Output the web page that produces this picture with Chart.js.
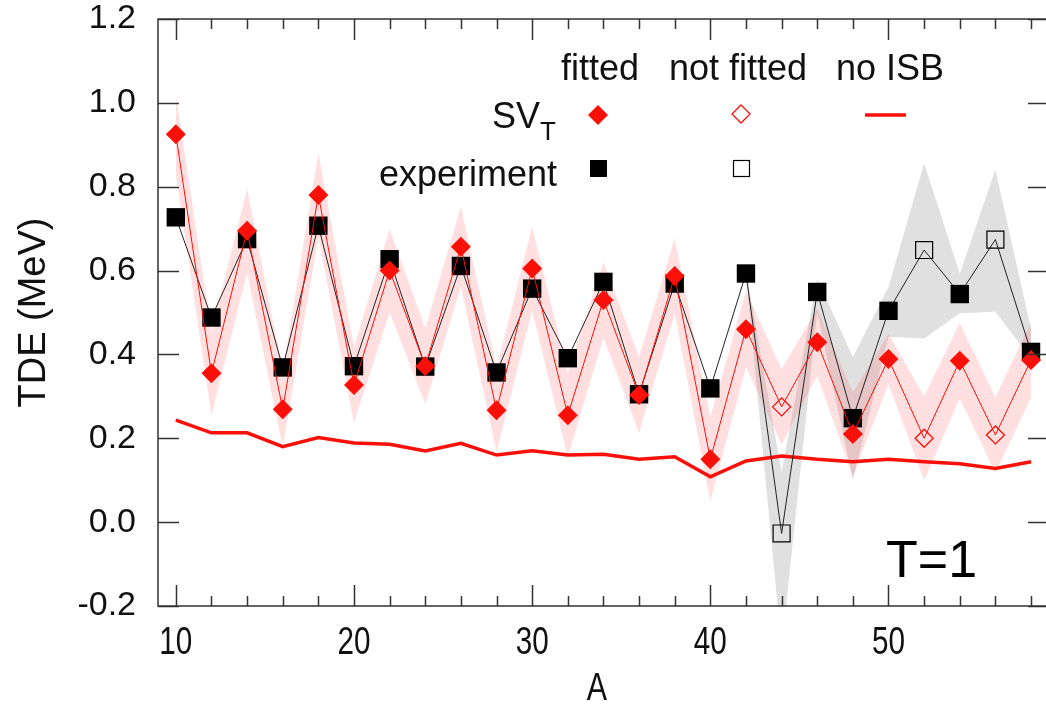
<!DOCTYPE html>
<html>
<head>
<meta charset="utf-8">
<script src="https://cdn.jsdelivr.net/npm/chart.js@4.4.1/dist/chart.umd.min.js"></script>
<style>
html,body{margin:0;background:#fff;}
#c{display:block;}
</style>
</head>
<body>
<canvas id="c" width="1046" height="710"></canvas>
<script>
// mass number A
const massA = [10,12,14,16,18,20,22,24,26,28,30,32,34,36,38,40,42,44,46,48,50,52,54,56,58];
// SV_T result and its band half-width
const svT   = [0.925,0.355,0.695,0.269,0.780,0.327,0.600,0.372,0.657,0.267,0.605,0.255,0.530,0.303,0.587,0.150,0.460,0.275,0.429,0.210,0.389,0.200,0.385,0.208,0.387];
const svErr = [0.095,0.10,0.10,0.09,0.10,0.09,0.10,0.09,0.095,0.10,0.10,0.10,0.09,0.09,0.09,0.10,0.09,0.09,0.08,0.10,0.06,0.10,0.09,0.09,0.09];
// experiment
const expt  = [0.727,0.488,0.675,0.369,0.707,0.372,0.627,0.371,0.611,0.357,0.557,0.391,0.573,0.305,0.569,0.319,0.593,-0.027,0.549,0.248,0.504,0.649,0.544,0.674,0.406];
// grey band around experiment (only A>=42)
const expHi = [null,null,null,null,null,null,null,null,null,null,null,null,null,null,null,null,0.60,0.12,0.58,0.394,0.561,0.856,0.593,0.841,0.46];
const expLo = [null,null,null,null,null,null,null,null,null,null,null,null,null,null,null,null,0.59,-0.30,0.50,0.100,0.442,0.438,0.498,0.502,0.39];
// no isospin symmetry breaking
const noIsb = [0.2435,0.213,0.213,0.180,0.202,0.189,0.186,0.170,0.188,0.160,0.170,0.160,0.162,0.150,0.156,0.108,0.146,0.158,0.150,0.144,0.150,0.144,0.139,0.128,0.144];
// points not used in the fit
const notFitted = [44,52,56];

const xTicks = [10,20,30,40,50];
const yTicks = [-0.2,0,0.2,0.4,0.6,0.8,1.0,1.2];

const RED = "rgb(250,16,8)";
const PINK = "rgba(255,40,40,0.15)";
const GREY = "rgba(0,0,0,0.12)";
const FONT = "'Liberation Sans', Arial, sans-serif";

const pts = arr => massA.map((a,i) => ({x:a, y:arr[i]}));
const isOpen = ctx => notFitted.includes(massA[ctx.dataIndex]);
const openPts = arr => massA.map((a,i) => ({x:a, y:arr[i]})).filter(p => notFitted.includes(p.x));

// frame, inward ticks, narrow x labels, legend and label
const frame = {
  id: "frame",
  afterDraw(chart){
    const {ctx, chartArea:a, scales:{x,y}} = chart;
    const rightEdge = a.right + 3;
    ctx.save();
    ctx.strokeStyle = "#333";
    ctx.lineWidth = 1.5;
    ctx.beginPath();
    ctx.moveTo(rightEdge, a.top); ctx.lineTo(a.left, a.top);
    ctx.lineTo(a.left, a.bottom); ctx.lineTo(rightEdge, a.bottom);
    for (let v = 10; v <= 58; v += 2) {
      const px = Math.round(x.getPixelForValue(v)) + 0.5;
      const len = v % 10 === 0 ? 21 : 10;
      ctx.moveTo(px, a.bottom); ctx.lineTo(px, a.bottom - len);
      ctx.moveTo(px, a.top); ctx.lineTo(px, a.top + len);
    }
    yTicks.forEach(v => {
      const py = Math.round(y.getPixelForValue(v)) + 0.5;
      ctx.moveTo(a.left, py); ctx.lineTo(a.left + 21, py);
      ctx.moveTo(rightEdge, py); ctx.lineTo(rightEdge - 21, py);
    });
    ctx.stroke();

    // x tick labels and title, horizontally condensed like the original
    ctx.fillStyle = "#111";
    ctx.font = "38px " + FONT;
    ctx.textAlign = "center";
    ctx.textBaseline = "alphabetic";
    xTicks.forEach(v => {
      ctx.save();
      ctx.translate(x.getPixelForValue(v), 654);
      ctx.scale(0.78, 1);
      ctx.fillText(String(v), 0, 0);
      ctx.restore();
    });
    ctx.save();
    ctx.translate(597, 700);
    ctx.scale(0.8, 1);
    ctx.fillText("A", 0, 0);
    ctx.restore();

    // legend
    ctx.font = "36px " + FONT;
    ctx.fillText("fitted", 600, 80);
    ctx.fillText("not fitted", 738, 80);
    ctx.fillText("no ISB", 890, 80);
    ctx.textAlign = "right";
    ctx.fillText("SV", 540, 128);
    ctx.fillText("experiment", 557, 186);
    ctx.textAlign = "left";
    ctx.font = "26px " + FONT;
    ctx.fillText("T", 540, 140);

    // legend markers
    ctx.fillStyle = RED;
    ctx.beginPath();
    ctx.moveTo(598, 105); ctx.lineTo(608, 115); ctx.lineTo(598, 125); ctx.lineTo(588, 115);
    ctx.closePath(); ctx.fill();
    ctx.strokeStyle = RED; ctx.lineWidth = 1.3;
    ctx.beginPath();
    ctx.moveTo(741, 105); ctx.lineTo(750, 114); ctx.lineTo(741, 123); ctx.lineTo(732, 114);
    ctx.closePath(); ctx.stroke();
    ctx.lineWidth = 3.5;
    ctx.beginPath(); ctx.moveTo(865, 115); ctx.lineTo(906, 115); ctx.stroke();
    ctx.fillStyle = "#000";
    ctx.fillRect(590, 160, 17, 17);
    ctx.strokeStyle = "#000"; ctx.lineWidth = 1.2;
    ctx.strokeRect(733.5, 160.5, 16, 16);

    ctx.fillStyle = "#000";
    ctx.font = "52px " + FONT;
    ctx.fillText("T=1", 886, 577);
    ctx.restore();
  }
};

new Chart(document.getElementById("c"), {
  type: "line",
  data: {
    datasets: [
      {data: pts(svT).map((p,i)=>({x:p.x, y:p.y+svErr[i]})), borderWidth:0, pointRadius:0, fill:false, order:10},
      {data: pts(svT).map((p,i)=>({x:p.x, y:p.y-svErr[i]})), borderWidth:0, pointRadius:0, fill:"-1", backgroundColor:PINK, order:10},
      {data: pts(expHi), borderWidth:0, pointRadius:0, fill:false, spanGaps:false, order:11},
      {data: pts(expLo), borderWidth:0, pointRadius:0, fill:"-1", backgroundColor:GREY, spanGaps:false, order:11},
      {data: pts(noIsb), borderColor:RED, borderWidth:3.5, pointRadius:0, fill:false, order:5},
      {data: pts(expt), borderColor:"#222", borderWidth:1, fill:false, order:4,
       pointStyle:"rect", pointRadius: c => isOpen(c) ? 0 : 13, backgroundColor:"#000", pointBorderWidth:0},
      {data: openPts(expt), showLine:false, pointStyle:"rect", pointRadius:12, pointBorderWidth:1.2,
       pointBorderColor:"#000", pointBackgroundColor:"rgba(0,0,0,0)", order:3},
      {data: pts(svT), borderColor:RED, borderWidth:1, fill:false, order:2,
       pointStyle:"rectRot", pointRadius: c => isOpen(c) ? 0 : 10, backgroundColor:RED, pointBorderWidth:0},
      {data: openPts(svT), showLine:false, pointStyle:"rectRot", pointRadius:9, pointBorderWidth:1.3,
       pointBorderColor:RED, pointBackgroundColor:"rgba(255,255,255,0)", order:1}
    ]
  },
  options: {
    responsive: false,
    animation: false,
    devicePixelRatio: 1,
    layout: {autoPadding: false, padding: {top: 19, right: 0, left: 0, bottom: 0}},
    plugins: {legend: {display:false}, tooltip: {enabled:false}, filler: {drawTime: "beforeDatasetsDraw"}},
    elements: {line: {tension: 0}},
    scales: {
      x: {
        type: "linear", min: 9, max: 58.84,
        grid: {display:false, drawTicks:false}, border: {display:false},
        afterBuildTicks: s => { s.ticks = xTicks.map(v => ({value:v})); },
        afterFit: s => { s.height = 104; s.paddingLeft = 0; s.paddingRight = 0; },
        ticks: {display:false}
      },
      y: {
        min: -0.2, max: 1.2,
        grid: {display:false, drawTicks:false}, border: {display:false},
        afterBuildTicks: s => { s.ticks = yTicks.map(v => ({value:v})); },
        afterFit: s => { s.width = 158; s.paddingTop = 0; s.paddingBottom = 0; },
        ticks: {color:"#111", padding: 22, callback: v => v.toFixed(1),
                font: {family:FONT, size:34}},
        title: {display:true, text:"TDE (MeV)", color:"#111", padding:{top:12, bottom:0},
                font: {family:FONT, size:38}}
      }
    }
  },
  plugins: [frame]
});
</script>
</body>
</html>
